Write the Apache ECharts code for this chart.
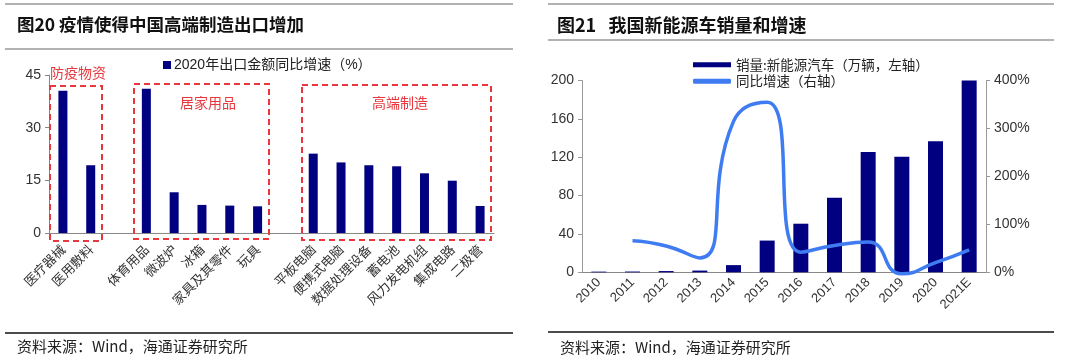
<!DOCTYPE html>
<html>
<head>
<meta charset="utf-8">
<script src="https://cdn.jsdelivr.net/npm/echarts@6/dist/echarts.min.js"></script>
<style>html,body{margin:0;padding:0;background:#fff;}#c{width:1080px;height:361px;}</style>
</head>
<body>
<div id="c"></div>
<script>
// Left chart data
const exportCats = ['医疗器械','医用敷料','','体育用品','微波炉','冰箱','家具及其零件','玩具','','平板电脑','便携式电脑','数据处理设备','蓄电池','风力发电机组','集成电路','二极管'];
const exportGrowth = [40.5, 19.3, null, 41.1, 11.6, 8.0, 7.8, 7.6, null, 22.6, 20.1, 19.3, 19.0, 17.0, 14.9, 7.7];
const exportLegend = '2020年出口金额同比增速（%）';
const exportTicks = [0, 15, 30, 45];

// Right chart data
const years = ['2010','2011','2012','2013','2014','2015','2016','2017','2018','2019','2020','2021E'];
const nevSales = [0.7, 0.8, 1.3, 1.8, 7.5, 33.1, 50.7, 77.7, 125.6, 120.6, 136.7, 200];
const nevGrowth = [null, 66, 55, 30, 315, 355, 42, 56, 63, -3, 20, 47];
const salesName = '销量:新能源汽车（万辆，左轴）';
const growthName = '同比增速（右轴）';

const FONT = '"Liberation Sans", "Noto Sans CJK SC", sans-serif';
const CJK = '"Noto Sans CJK SC", sans-serif';
const RED = '#e8383d';
const NAVY = '#000080';

const chart = echarts.init(document.getElementById('c'), null, {renderer:'canvas'});

function hline(x1,x2,y,color){
  return {type:'line', shape:{x1:x1,y1:y,x2:x2,y2:y}, style:{stroke:color,lineWidth:1.5}, silent:true};
}
function dbox(x,y,w,h){
  return {type:'rect', shape:{x:x,y:y,width:w,height:h}, style:{fill:'none',stroke:RED,lineWidth:2,lineDash:[6,4]}, silent:true, z:10};
}
function rtext(txt,cx,cy){
  return {type:'text', x:cx, y:cy, style:{text:txt, fill:RED, font:'14px '+CJK, align:'center', verticalAlign:'middle'}, z:11};
}

const option = {
  animation:false,
  textStyle:{fontFamily:FONT},
  grid:[
    {left:49, right:586, top:75, bottom:128},
    {left:582, right:94, top:80.6, bottom:88.7}
  ],
  legend:[
    {left:158, top:53, itemWidth:8, itemHeight:8, icon:'rect', itemGap:4,
     textStyle:{fontSize:14, color:'#222', fontFamily:FONT, padding:[0,0,0,-2]},
     data:[exportLegend]},
    {left:688, top:53, orient:'vertical', itemWidth:38, itemHeight:5, itemGap:3,
     textStyle:{fontSize:13.5, color:'#222', fontFamily:CJK},
     data:[{name:salesName, icon:'rect'},{name:growthName, icon:'roundRect'}]}
  ],
  xAxis:[
    {type:'category', gridIndex:0, data:exportCats,
     axisLine:{lineStyle:{color:'#888'}}, axisTick:{length:4, lineStyle:{color:'#888'}},
     axisLabel:{rotate:45, interval:0, fontSize:13, color:'#333', fontFamily:CJK, margin:14}},
    {type:'category', gridIndex:1, data:years,
     axisLine:{lineStyle:{color:'#888'}}, axisTick:{length:4, lineStyle:{color:'#888'}},
     axisLabel:{rotate:45, interval:0, fontSize:13, color:'#333', margin:8}}
  ],
  yAxis:[
    {type:'value', gridIndex:0, min:0, max:45, interval:15,
     axisLine:{show:true, lineStyle:{color:'#888'}}, axisTick:{show:true, length:4, lineStyle:{color:'#888'}},
     splitLine:{show:false}, axisLabel:{fontSize:14, color:'#333', margin:8}},
    {type:'value', gridIndex:1, min:0, max:200, interval:40,
     axisLine:{show:true, lineStyle:{color:'#999'}}, axisTick:{show:true, length:4, lineStyle:{color:'#999'}},
     splitLine:{show:false}, axisLabel:{fontSize:14, color:'#333', margin:8}},
    {type:'value', gridIndex:1, position:'right', min:0, max:400, interval:100,
     axisLine:{show:true, lineStyle:{color:'#999'}}, axisTick:{show:true, length:4, lineStyle:{color:'#999'}},
     splitLine:{show:false}, axisLabel:{fontSize:14, color:'#333', margin:8, formatter:'{value}%'}}
  ],
  series:[
    {name:exportLegend, type:'bar', xAxisIndex:0, yAxisIndex:0, data:exportGrowth,
     barWidth:9, itemStyle:{color:NAVY}},
    {name:salesName, type:'bar', xAxisIndex:1, yAxisIndex:1, data:nevSales,
     barWidth:15, itemStyle:{color:NAVY}},
    {name:growthName, type:'line', xAxisIndex:1, yAxisIndex:2, data:nevGrowth,
     smooth:0.55, symbol:'none', clip:false, connectNulls:false,
     lineStyle:{color:'#3f7cf2', width:3.5}, itemStyle:{color:'#3f7cf2'}, z:5}
  ],
  graphic:[
    hline(5,513,4,'#999'), hline(5,513,49,'#999'), hline(5,513,333,'#111'),
    hline(548,1054,4,'#999'), hline(548,1054,40,'#999'), hline(548,1054,332,'#111'),
    {type:'text', x:17, y:24, style:{text:'图20 疫情使得中国高端制造出口增加', fill:'#111', font:'bold 17.5px '+CJK, verticalAlign:'middle'}},
    {type:'text', x:557, y:25, style:{text:'图21   我国新能源车销量和增速', fill:'#111', font:'bold 18px '+CJK, verticalAlign:'middle'}},
    {type:'text', x:17, y:346, style:{text:'资料来源：Wind，海通证券研究所', fill:'#222', font:'15px '+CJK, verticalAlign:'middle'}},
    {type:'text', x:560, y:347, style:{text:'资料来源：Wind，海通证券研究所', fill:'#222', font:'15px '+CJK, verticalAlign:'middle'}},
    dbox(50,86,52,155), dbox(134,84,135,155), dbox(302,85,189,155),
    rtext('防疫物资',78,73), rtext('居家用品',208,103), rtext('高端制造',400,103)
  ]
};
chart.setOption(option);
</script>
</body>
</html>
